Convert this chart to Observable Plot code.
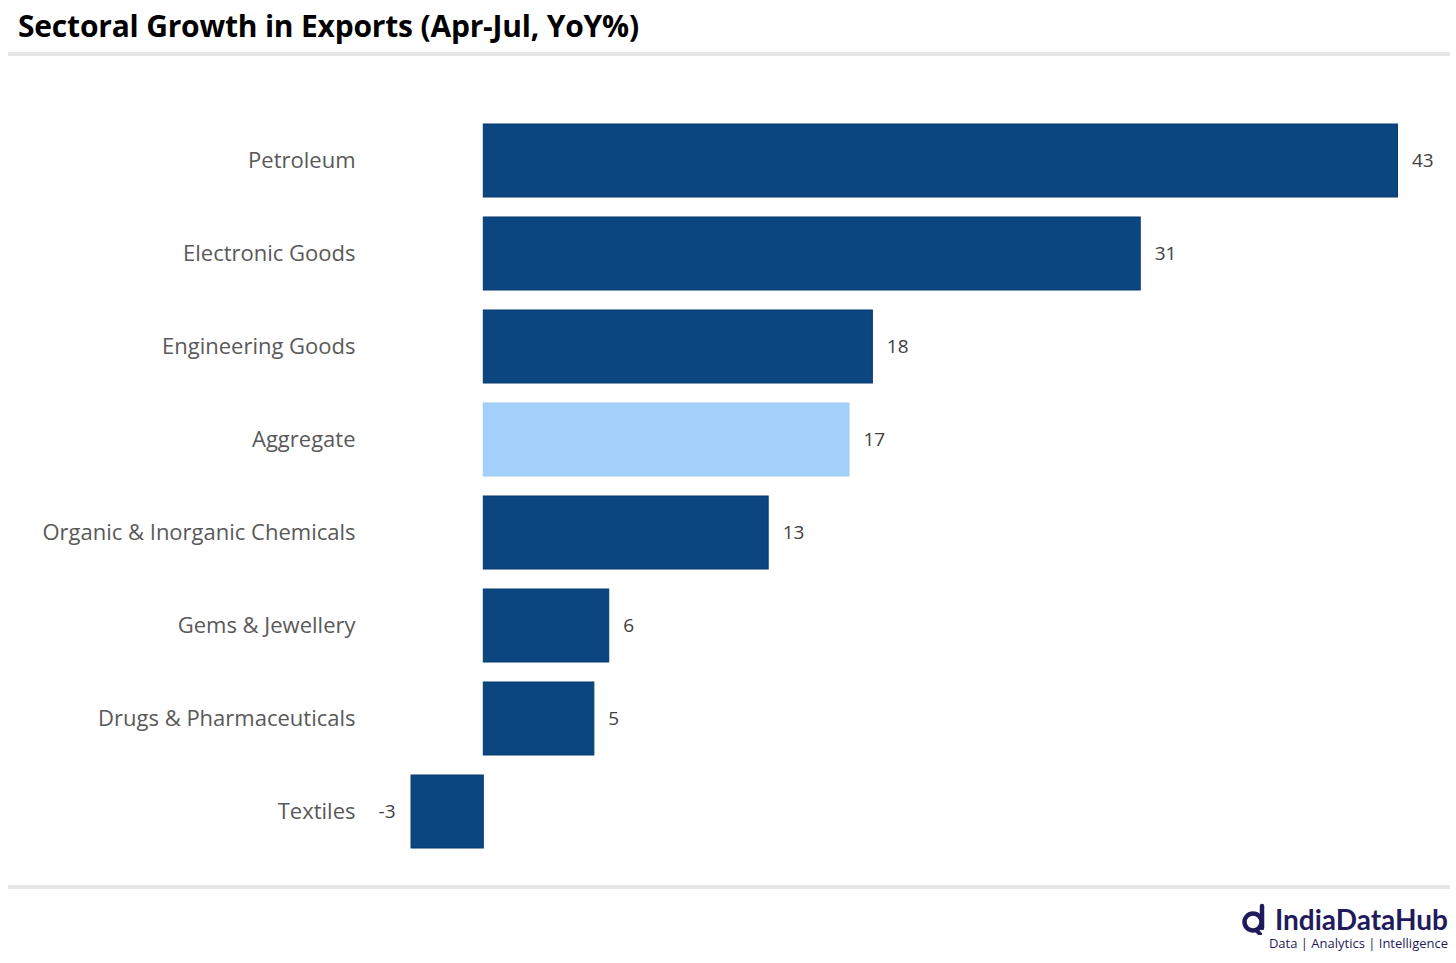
<!DOCTYPE html>
<html lang="en">
<head>
<meta charset="UTF-8">
<script src="https://cdn.jsdelivr.net/npm/d3@7"></script>
<script src="https://cdn.jsdelivr.net/npm/@observablehq/plot@0.6"></script>
<style>
  body { margin: 0; background: #fff; font-family: "Open Sans", sans-serif; }
  #title { height: 52px; padding-left: 18px; font-size: 30px; font-weight: 700; color: #000; line-height: 52px; letter-spacing: -0.2px; }
  .rule { margin: 0 6px 0 8px; height: 4px; background: #e6e6e6; }
  #plot { height: 829px; }
  #logo { position: absolute; right: 8px; top: 903px; text-align: right; color: #1f1b5c; }
  #logo .name { font-family: "Lato", sans-serif; font-weight: 700; font-size: 28px; line-height: 30px; display: flex; align-items: center; justify-content: flex-end; gap: 6px; }
  #logo .tag { font-size: 13px; line-height: 17px; color: #1f1b5c; }
</style>
</head>
<body>
<div id="title">Sectoral Growth in Exports (Apr-Jul, YoY%)</div>
<div class="rule"></div>
<div id="plot"></div>
<div class="rule"></div>
<div id="logo">
  <div class="name"><svg width="28" height="32" viewBox="0 0 28 32"><circle cx="12" cy="19" r="8.5" fill="none" stroke="#1f1b5c" stroke-width="4.5"/><line x1="21" y1="3" x2="21" y2="25" stroke="#1f1b5c" stroke-width="4.5" stroke-linecap="round"/><line x1="15" y1="27" x2="19" y2="31" stroke="#1f1b5c" stroke-width="4" stroke-linecap="round"/></svg>IndiaDataHub</div>
  <div class="tag">Data | Analytics | Intelligence</div>
</div>
<script>
  const sectors = ["Petroleum", "Electronic Goods", "Engineering Goods", "Aggregate",
    "Organic & Inorganic Chemicals", "Gems & Jewellery", "Drugs & Pharmaceuticals", "Textiles"];
  const growth = [43.0, 30.9, 18.3, 17.2, 13.4, 5.9, 5.2, -3.4];

  const rows = sectors.map((s, i) => ({sector: s, value: growth[i]}));
  const label = d => String(Math.round(d.value));

  const plot = Plot.plot({
    width: 1456,
    height: 829,
    marginTop: 48,
    marginBottom: 17,
    marginLeft: 377,
    marginRight: 16,
    style: {fontFamily: "Open Sans, sans-serif", background: "transparent"},
    x: {domain: [-5, 45], axis: null},
    y: {domain: sectors, padding: 0.215, round: false, label: null},
    marks: [
      Plot.barX(rows, {
        x: "value", y: "sector",
        fill: d => d.sector === "Aggregate" ? "#a3d0fb" : "#0b4680",
        stroke: d => d.sector === "Aggregate" ? "#9ccaf5" : "#063a6e",
        strokeWidth: 1
      }),
      Plot.text(rows.filter(d => d.value >= 0), {
        x: "value", y: "sector", text: label,
        textAnchor: "start", dx: 14, fontSize: 19, fill: "#404040"
      }),
      Plot.text(rows.filter(d => d.value < 0), {
        x: "value", y: "sector", text: label,
        textAnchor: "end", dx: -16, fontSize: 19, fill: "#404040"
      }),
      Plot.axisY({tickSize: 0, tickPadding: 22, fontSize: 22, color: "#595959", label: null})
    ]
  });
  document.getElementById("plot").append(plot);
</script>
</body>
</html>
